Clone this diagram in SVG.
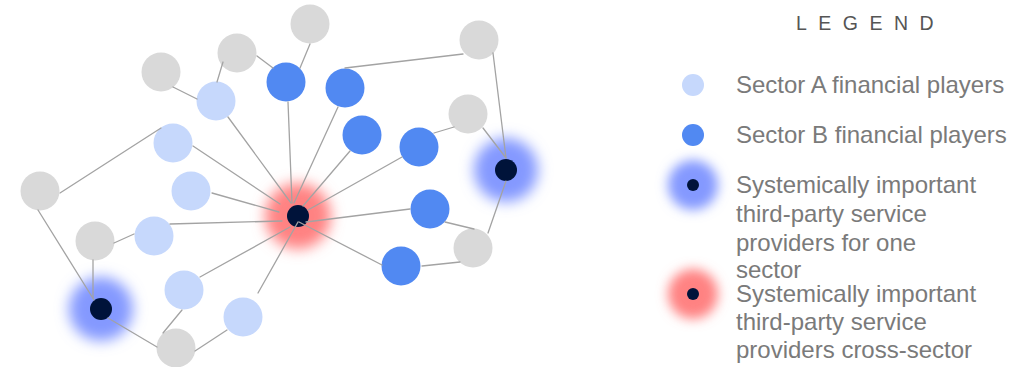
<svg xmlns="http://www.w3.org/2000/svg" width="1033" height="367" viewBox="0 0 1033 367">
<style>
.gray{fill:#d9d9d9}
.a{fill:#c6d8fc}
.b{fill:#5189f2}
.dark{fill:#00133a}
.edge{stroke:#a3a3a3;stroke-width:1.3;fill:none;stroke-linecap:round}
.lbl{font-family:"Liberation Sans",Arial,sans-serif;font-size:24px;fill:#7a7a7a}
.title{font-family:"Liberation Sans",Arial,sans-serif;font-size:19.5px;fill:#555555;letter-spacing:11.5px}
</style>
<defs>
<filter id="blur" x="-1" y="-1" width="3" height="3"><feGaussianBlur stdDeviation="7"/></filter>
<filter id="blurS" x="-1" y="-1" width="3" height="3"><feGaussianBlur stdDeviation="6"/></filter>
</defs>
<rect width="1033" height="367" fill="#ffffff"/>

<g id="glows">
<circle cx="298" cy="216" r="33" fill="#ff8282" filter="url(#blur)"/>
<circle cx="506" cy="170" r="32" fill="#8499ff" filter="url(#blur)"/>
<circle cx="101" cy="309" r="32" fill="#8499ff" filter="url(#blur)"/>
</g>

<g id="gray-nodes">
<circle id="g1" class="gray" cx="161" cy="72" r="19.5"/>
<circle id="g2" class="gray" cx="237" cy="53" r="19.5"/>
<circle id="g3" class="gray" cx="310" cy="24" r="19.5"/>
<circle id="g4" class="gray" cx="479" cy="40" r="19.5"/>
<circle id="g5" class="gray" cx="468" cy="114" r="19.5"/>
<circle id="g6" class="gray" cx="40" cy="191" r="19.5"/>
<circle id="g7" class="gray" cx="95" cy="241" r="19.5"/>
<circle id="g8" class="gray" cx="473" cy="248" r="19.5"/>
<circle id="g9" class="gray" cx="176" cy="348" r="19.5"/>
</g>

<g id="sector-a-nodes">
<circle id="a1" class="a" cx="216" cy="101" r="19.5"/>
<circle id="a2" class="a" cx="173" cy="143" r="19.5"/>
<circle id="a3" class="a" cx="191" cy="191" r="19.5"/>
<circle id="a4" class="a" cx="154" cy="236" r="19.5"/>
<circle id="a5" class="a" cx="184" cy="290" r="19.5"/>
<circle id="a6" class="a" cx="243" cy="317" r="19.5"/>
</g>

<g id="sector-b-nodes">
<circle id="b1" class="b" cx="286" cy="82" r="19.5"/>
<circle id="b2" class="b" cx="345" cy="88" r="19.5"/>
<circle id="b3" class="b" cx="362" cy="135" r="19.5"/>
<circle id="b4" class="b" cx="419" cy="147" r="19.5"/>
<circle id="b5" class="b" cx="430" cy="209" r="19.5"/>
<circle id="b6" class="b" cx="401" cy="266" r="19.5"/>
</g>

<g id="providers">
<circle id="p-cross" class="dark" cx="298" cy="216" r="11"/>
<circle id="p-one-1" class="dark" cx="506" cy="170" r="11"/>
<circle id="p-one-2" class="dark" cx="101" cy="309" r="11"/>
</g>

<g id="connectors" class="edge">
<line x1="228" y1="117" x2="291" y2="203"/>
<line x1="288" y1="102" x2="292" y2="203"/>
<line x1="338" y1="107" x2="294" y2="203"/>
<line x1="350" y1="151" x2="303" y2="206"/>
<line x1="402" y1="157" x2="308" y2="210"/>
<line x1="410" y1="209" x2="306" y2="222"/>
<line x1="382" y1="265" x2="299" y2="222"/>
<line x1="258" y1="293" x2="298" y2="222"/>
<line x1="200" y1="277" x2="290" y2="227"/>
<line x1="170" y1="224" x2="282" y2="221"/>
<line x1="212" y1="193" x2="279" y2="212"/>
<line x1="193" y1="146" x2="280" y2="204"/>
<line x1="173" y1="87" x2="197" y2="99"/>
<line x1="223" y1="62" x2="217" y2="82"/>
<line x1="257" y1="56" x2="273" y2="68"/>
<line x1="310" y1="44" x2="300" y2="68"/>
<line x1="345" y1="68" x2="463" y2="54"/>
<line x1="493" y1="53" x2="506" y2="158"/>
<line x1="483" y1="128" x2="506" y2="158"/>
<line x1="434" y1="133" x2="454" y2="127"/>
<line x1="445" y1="222" x2="474" y2="229"/>
<line x1="506" y1="181" x2="488" y2="233"/>
<line x1="422" y1="266" x2="460" y2="262"/>
<line x1="161" y1="128" x2="60" y2="193"/>
<line x1="38" y1="210" x2="94" y2="300"/>
<line x1="93" y1="260" x2="93" y2="298"/>
<line x1="114" y1="243" x2="134" y2="234"/>
<line x1="108" y1="318" x2="157" y2="347"/>
<line x1="182" y1="310" x2="163" y2="333"/>
<line x1="227" y1="330" x2="195" y2="351"/>
</g>

<g id="legend">
<text class="title" x="796" y="30">LEGEND</text>
<g id="legend-a">
<circle class="a" cx="693" cy="85" r="11"/>
<text class="lbl" x="736" y="93">Sector A financial players</text>
</g>
<g id="legend-b">
<circle class="b" cx="693" cy="135" r="11"/>
<text class="lbl" x="736" y="143">Sector B financial players</text>
</g>
<g id="legend-one">
<circle cx="693" cy="185" r="25" fill="#8499ff" filter="url(#blurS)"/>
<circle class="dark" cx="693" cy="185" r="6"/>
<text class="lbl" x="736" y="193">Systemically important</text>
<text class="lbl" x="736" y="222">third-party service</text>
<text class="lbl" x="736" y="251">providers for one</text>
<text class="lbl" x="736" y="278">sector</text>
</g>
<g id="legend-cross">
<circle cx="693" cy="294" r="25" fill="#ff8282" filter="url(#blurS)"/>
<circle class="dark" cx="693" cy="294" r="6"/>
<text class="lbl" x="736" y="302">Systemically important</text>
<text class="lbl" x="736" y="330">third-party service</text>
<text class="lbl" x="736" y="358">providers cross-sector</text>
</g>
</g>
</svg>
